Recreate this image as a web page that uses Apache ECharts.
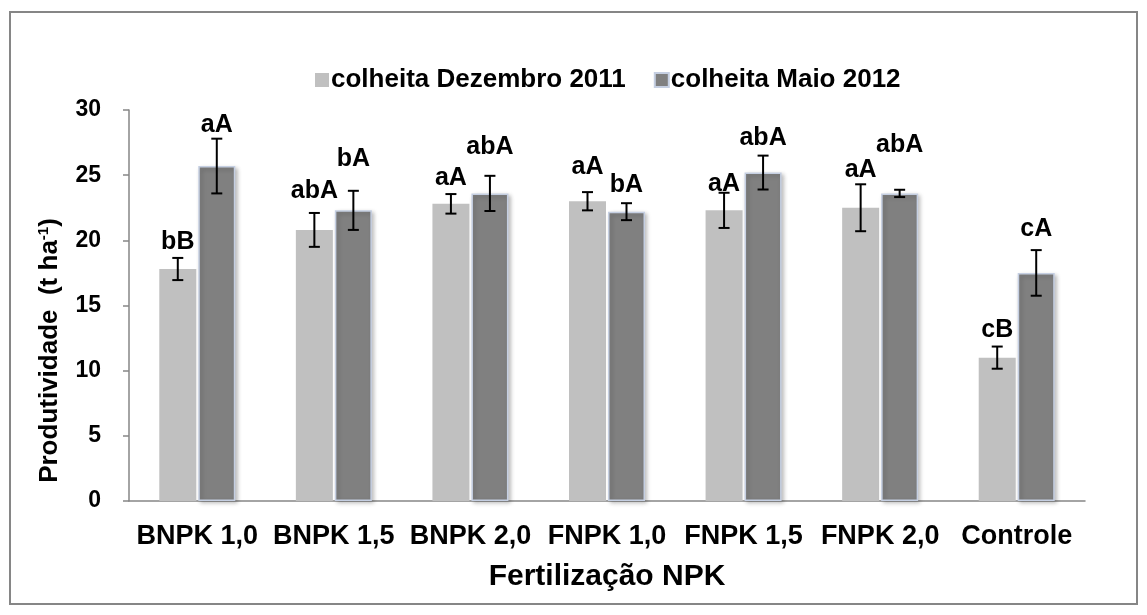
<!DOCTYPE html>
<html>
<head>
<meta charset="utf-8">
<script src="https://cdn.jsdelivr.net/npm/echarts@6/dist/echarts.min.js"></script>
<style>
html,body{margin:0;padding:0;background:#fff;}
#chart{width:1147px;height:615px;}
</style>
</head>
<body>
<div id="chart"></div>
<script>
// ---- data ----
const categories = ['BNPK 1,0','BNPK 1,5','BNPK 2,0','FNPK 1,0','FNPK 1,5','FNPK 2,0','Controle'];
const seriesNames = ['colheita Dezembro 2011','colheita Maio 2012'];
const dez2011 = [17.8, 20.8, 22.8, 23.0, 22.3, 22.5, 11.0];
const dez2011Err = [0.85, 1.3, 0.75, 0.7, 1.35, 1.8, 0.85];
const mai2012 = [25.7, 22.3, 23.6, 22.2, 25.2, 23.6, 17.5];
const mai2012Err = [2.1, 1.5, 1.35, 0.65, 1.3, 0.28, 1.75];
const dez2011Letters = ['bB','abA','aA','aA','aA','aA','cB'];
const mai2012Letters = ['aA','bA','abA','bA','abA','abA','cA'];
const yTicks = {min: 0, max: 30, interval: 5};

// ---- style ----
const BAR_W = 37, BAR_GAP_PX = 2;
const FONT = '"Liberation Sans", Arial, sans-serif';
// pixel lift of each letter label above its error-bar top (hand placed in the original)
const dezLabelLift = [16, 22, 16, 25, 9, 14, 16];
const maiLabelLift = [14, 32, 29, 18, 18, 45, 21];
const chart = echarts.init(document.getElementById('chart'), null, {renderer: 'canvas'});

function errSeries(vals, errs, letters, lifts, side) {
  const data = vals.map((v, i) => [i, v, errs[i]]);
  return {
    type: 'custom',
    z: 10,
    data: data,
    encode: {x: 0, y: 1},
    renderItem: function (params, api) {
      const idx = api.value(0), v = api.value(1), e = api.value(2);
      const off = side * (BAR_W + BAR_GAP_PX) / 2;
      const top = api.coord([idx, v + e]);
      const bot = api.coord([idx, v - e]);
      const x = top[0] + off;
      const cap = 5.5;
      const i = params.dataIndex;
      return {
        type: 'group',
        children: [
          {type: 'line', shape: {x1: x, y1: top[1], x2: x, y2: bot[1]}, style: {stroke: '#000', lineWidth: 2}},
          {type: 'line', shape: {x1: x - cap, y1: top[1], x2: x + cap, y2: top[1]}, style: {stroke: '#000', lineWidth: 2}},
          {type: 'line', shape: {x1: x - cap, y1: bot[1], x2: x + cap, y2: bot[1]}, style: {stroke: '#000', lineWidth: 2}},
          {type: 'text', x: x, y: top[1] - lifts[i], style: {text: letters[i], fill: '#000', font: 'bold 25px ' + FONT, align: 'center', verticalAlign: 'middle'}}
        ]
      };
    }
  };
}

const option = {
  animation: false,
  backgroundColor: '#fff',
  textStyle: {fontFamily: FONT},
  graphic: [{
    type: 'rect', shape: {x: 10, y: 12, width: 1127, height: 592},
    style: {fill: 'none', stroke: '#868686', lineWidth: 2}, z: -1
  }],
  legend: {
    data: seriesNames,
    left: 310, top: 62,
    icon: 'rect', itemWidth: 14, itemHeight: 14, itemGap: 28,
    textStyle: {fontSize: 26, fontWeight: 'bold', color: '#000', fontFamily: FONT, padding: [0, 0, 0, -3]}
  },
  grid: {left: 129, right: 62, top: 110, bottom: 114, containLabel: false},
  xAxis: {
    type: 'category',
    data: categories,
    name: 'Fertilização NPK',
    nameLocation: 'middle',
    nameGap: 61,
    nameTextStyle: {fontSize: 30, fontWeight: 'bold', color: '#000', fontFamily: FONT},
    axisLine: {lineStyle: {color: '#868686', width: 1.5}},
    axisTick: {show: false},
    axisLabel: {fontSize: 27, fontWeight: 'bold', color: '#000', margin: 22, interval: 0, fontFamily: FONT}
  },
  yAxis: {
    type: 'value',
    min: yTicks.min, max: yTicks.max, interval: yTicks.interval,
    name: 'Produtividade  (t ha{sup|-1})',
    nameLocation: 'middle',
    nameGap: 66,
    nameTextStyle: {
      fontSize: 26, fontWeight: 'bold', color: '#000', fontFamily: FONT,
      padding: [0, 90, 0, 0],
      rich: {sup: {fontSize: 15, fontWeight: 'bold', color: '#000', fontFamily: FONT, verticalAlign: 'top', padding: [0, 0, 12, 0]}}
    },
    axisLine: {show: true, lineStyle: {color: '#868686', width: 1.5}},
    axisTick: {show: true, length: 6, lineStyle: {color: '#868686', width: 1.5}},
    splitLine: {show: false},
    axisLabel: {fontSize: 23, fontWeight: 'bold', color: '#000', margin: 28, fontFamily: FONT}
  },
  series: [
    {
      name: seriesNames[0], type: 'bar', data: dez2011,
      barWidth: BAR_W, barGap: (BAR_GAP_PX / BAR_W * 100) + '%',
      itemStyle: {color: '#c0c0c0'}
    },
    {
      name: seriesNames[1], type: 'bar', data: mai2012,
      barWidth: BAR_W,
      itemStyle: {color: '#808080', borderColor: '#c5cfe2', borderWidth: 1.5,
        shadowBlur: 4, shadowColor: 'rgba(0,0,0,0.25)', shadowOffsetX: 2, shadowOffsetY: 2}
    },
    errSeries(dez2011, dez2011Err, dez2011Letters, dezLabelLift, -1),
    errSeries(mai2012, mai2012Err, mai2012Letters, maiLabelLift, 1)
  ]
};
chart.setOption(option);
</script>
</body>
</html>
